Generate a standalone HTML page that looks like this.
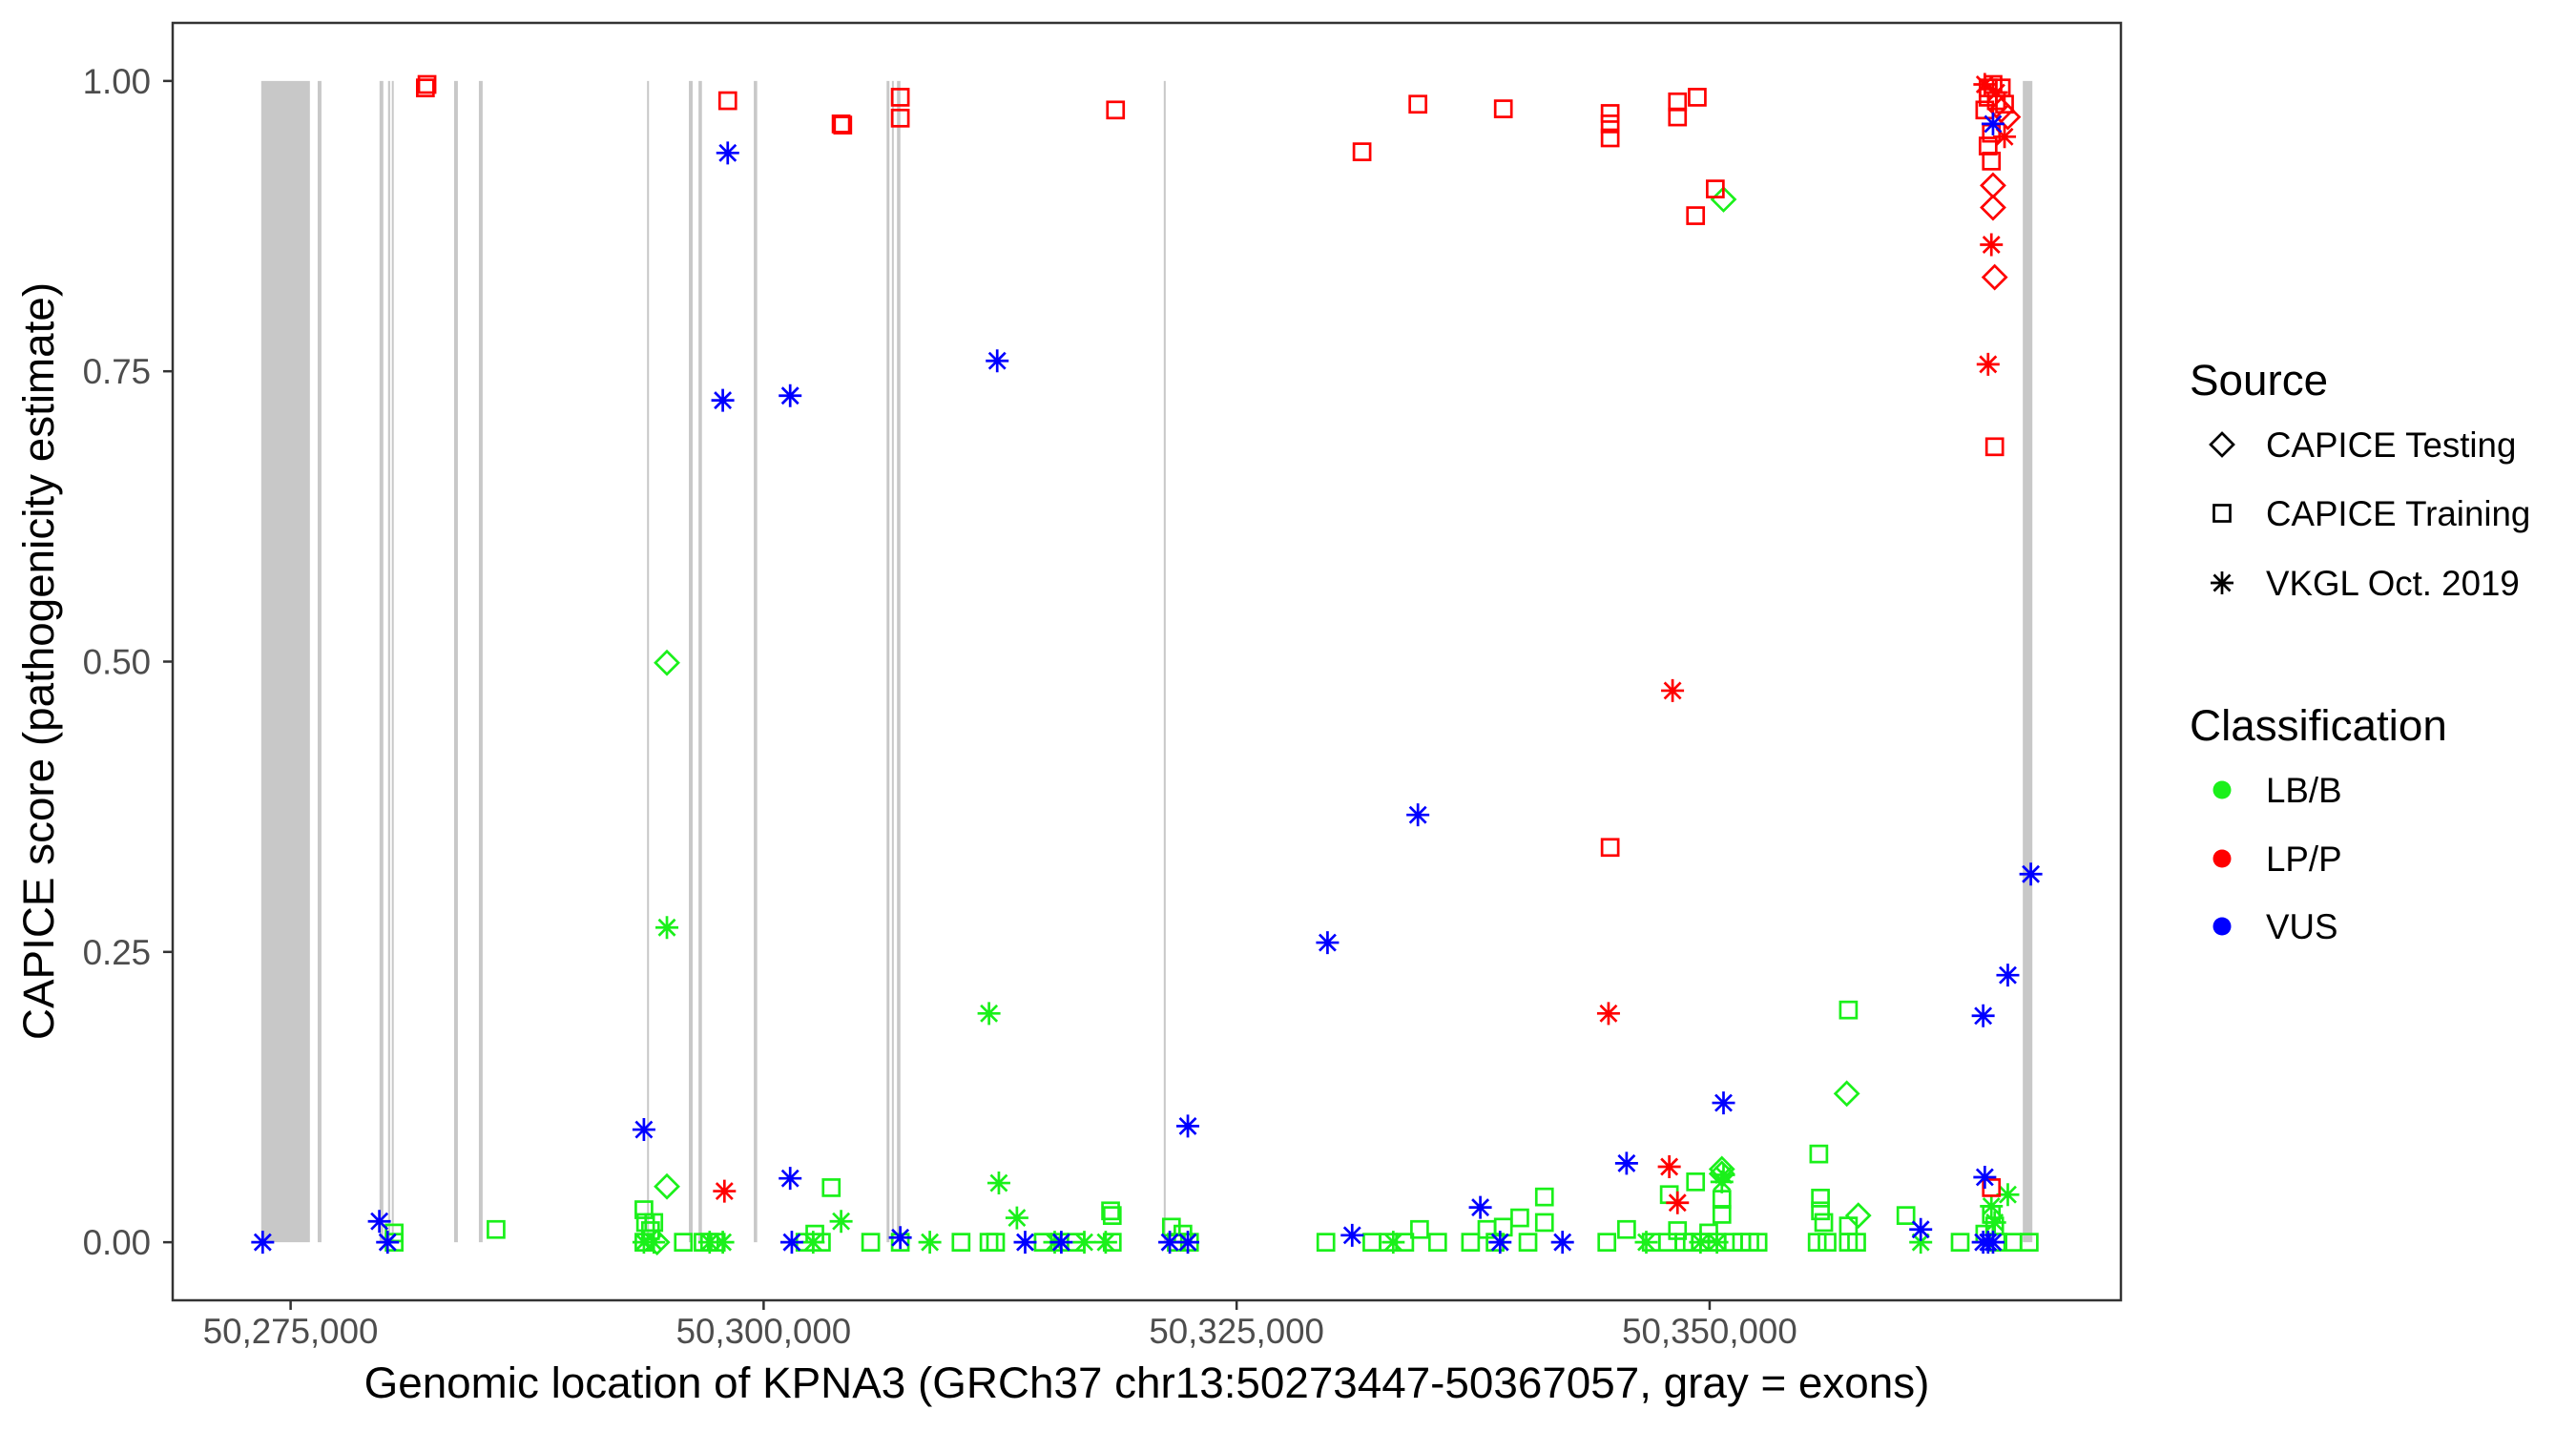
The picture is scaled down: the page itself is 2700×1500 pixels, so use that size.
<!DOCTYPE html>
<html><head><meta charset="utf-8"><style>
html,body{margin:0;padding:0;background:#fff;}
svg{display:block;font-family:"Liberation Sans",Arial,sans-serif;}
</style></head><body>
<svg id="chart" width="2700" height="1500" viewBox="0 0 2700 1500" xmlns="http://www.w3.org/2000/svg">
<rect x="0" y="0" width="2700" height="1500" fill="#fff"/>
<g id="exons"></g>
<g id="points"></g>
<rect x="181" y="24" width="2042" height="1339" fill="none" stroke="#333" stroke-width="2.5"/>
<g id="xaxis"></g>
<g id="yaxis"></g>
<text x="1202" y="1465" font-size="45.8" text-anchor="middle" fill="#000">Genomic location of KPNA3 (GRCh37 chr13:50273447-50367057, gray = exons)</text>
<text transform="translate(56,693) rotate(-90)" font-size="45.8" text-anchor="middle" fill="#000">CAPICE score (pathogenicity estimate)</text>
<g id="legend">
<text x="2295" y="414" font-size="45.8" fill="#000">Source</text>
<text x="2375" y="479" font-size="36.7" fill="#000">CAPICE Testing</text>
<text x="2375" y="551" font-size="36.7" fill="#000">CAPICE Training</text>
<text x="2375" y="624" font-size="36.7" fill="#000">VKGL Oct. 2019</text>
<text x="2295" y="776" font-size="45.8" fill="#000">Classification</text>
<text x="2375" y="841" font-size="36.7" fill="#000">LB/B</text>
<text x="2375" y="913" font-size="36.7" fill="#000">LP/P</text>
<text x="2375" y="984" font-size="36.7" fill="#000">VUS</text>
<circle cx="2329" cy="828" r="9.5" fill="#1AF01A"/>
<circle cx="2329" cy="900" r="9.5" fill="#FF0000"/>
<circle cx="2329" cy="971" r="9.5" fill="#0000FF"/>
</g>
</svg>
<script>
const xTicks = [50275000, 50300000, 50325000, 50350000];
const xTickLabels = ["50,275,000", "50,300,000", "50,325,000", "50,350,000"];
const yTicks = [0, 0.25, 0.5, 0.75, 1];
const yTickLabels = ["0.00", "0.25", "0.50", "0.75", "1.00"];
const exonStarts = [50273447,50276430,50279700,50280150,50280350,50283640,50284950,50293840,50296050,50296560,50299480,50306500,50306780,50307050,50321150,50366550];
const exonEnds   = [50276019,50276630,50279900,50280260,50280450,50283840,50285150,50293900,50296250,50296740,50299660,50306650,50306880,50307230,50321210,50367057];

const vkglVusPos = [50273524,50279690,50280125,50293673,50298103,50297842,50301403,50301403,50301490,50307222,50312346,50313822,50315733,50322421,50321466,50322421,50329804,50331107,50334581,50337880,50338923,50342223,50345610,50350734,50361157,50364457,50364544,50365760,50366977,50364978,50364457,50364718,50364978];
const vkglVusScore = [0,0.018,0,0.097,0.938,0.725,0.729,0.055,0,0.004,0.759,0,0,0.1,0,0,0.258,0.006,0.368,0.03,0,0,0.068,0.12,0.011,0.195,0.056,0.23,0.317,0.963,0,0,0];
const vkglLppPos = [50297929,50344655,50348041,50347867,50348302,50364544,50365152,50365587,50364891,50364718];
const vkglLppScore = [0.044,0.197,0.475,0.065,0.034,0.997,0.99,0.952,0.859,0.756];
const vkglLbbPos = [50294889,50293673,50294194,50297147,50297842,50304095,50302619,50308785,50311912,50312433,50313388,50315385,50316949,50318078,50333278,50346650,50350647,50350734,50349518,50350386,50361157,50365760,50364891,50365065];
const vkglLbbScore = [0.271,0,0,0,0,0.018,0,0,0.197,0.051,0.021,0,0,0,0,0,0.052,0.058,0,0,0,0.041,0.031,0.017];
const trainLppPos = [50282122,50282209,50298103,50304095,50304182,50307222,50307222,50318600,50331628,50334581,50339096,50344741,50344741,50344741,50344741,50348302,50348302,50349344,50349257,50350299,50364718,50364978,50365413,50365152,50365587,50364718,50364544,50364891,50364718,50364891,50365065,50364891];
const trainLppScore = [0.994,0.997,0.983,0.963,0.962,0.986,0.968,0.975,0.939,0.98,0.976,0.972,0.963,0.951,0.34,0.982,0.969,0.986,0.884,0.907,0.994,0.997,0.994,0.983,0.98,0.986,0.975,0.955,0.944,0.931,0.685,0.047];
const trainLbbPos = [50280472,50280472,50285857,50293673,50293760,50294021,50294194,50293673,50295758,50296800,50297147,50297495,50302185,50302706,50303053,50303574,50305659,50307222,50310435,50311912,50312259,50314777,50315646,50316515,50318339,50318426,50318426,50321553,50321813,50322160,50322508,50329717,50332149,50333017,50333886,50334668,50335623,50338228,50338662,50339096,50339965,50341268,50341268,50340399,50337365,50345610,50346912,50344568,50347867,50349257,50350647,50350647,50347780,50348649,50349084,50349518,50349952,50350386,50351255,50351689,50352123,50352558,50348302,50349952,50355771,50355858,50355858,50356032,50355685,50356206,50357335,50357335,50357769,50357335,50360375,50363241,50364891,50365065,50364544,50365239,50366021,50366890];
const trainLbbScore = [0.008,0,0.011,0.028,0.017,0.01,0.017,0,0,0,0,0,0,0.007,0,0.047,0,0,0,0,0,0,0,0,0.027,0.023,0,0.013,0,0.007,0,0,0,0,0,0.011,0,0.011,0,0.013,0.021,0.039,0.017,0,0,0.011,0,0,0.041,0.052,0.024,0.037,0,0,0,0,0,0,0,0,0,0,0.01,0.008,0.076,0.038,0.027,0.017,0,0,0.014,0,0,0.2,0.023,0,0.024,0.014,0.007,0,0,0];
const testLbbPos = [50294368,50294889,50294889,50350734,50350647,50350647,50357856,50357248];
const testLbbScore = [0,0.048,0.499,0.898,0.063,0.059,0.023,0.128];
const testLppPos = [50365413,50365760,50364978,50364978,50365065];
const testLppScore = [0.975,0.969,0.91,0.891,0.831];

const NS = "http://www.w3.org/2000/svg";
const X0 = 50268767, X1 = 50371737, PX0 = 181, PX1 = 2223;
const PY0 = 1363, PY1 = 24, Y0 = -0.05, Y1 = 1.05;
function xs(v){ return PX0 + (v - X0) / (X1 - X0) * (PX1 - PX0); }
function ys(v){ return PY0 - (v - Y0) / (Y1 - Y0) * (PY0 - PY1); }
function mk(tag, attrs, parent){
  const el = document.createElementNS(NS, tag);
  for (const k in attrs) el.setAttribute(k, attrs[k]);
  parent.appendChild(el);
  return el;
}
const GREEN = "#1AF01A", RED = "#FF0000", BLUE = "#0000FF";

const exG = document.getElementById("exons");
for (let i = 0; i < exonStarts.length; i++) {
  const x1 = xs(exonStarts[i]), x2 = xs(exonEnds[i]);
  const r = mk("rect", {x: x1, y: ys(1), width: Math.max(2, x2 - x1), height: ys(0) - ys(1), fill: "#C8C8C8"}, exG);
  
  
}

const ptG = document.getElementById("points");
function drawShape(shape, cx, cy, color, parent){
  let el;
  if (shape === "square") {
    el = mk("rect", {x: cx - 8.5, y: cy - 8.5, width: 17, height: 17, fill: "none", stroke: color, "stroke-width": 2.7}, parent);
  } else if (shape === "diamond") {
    const r = 12;
    el = mk("polygon", {points: `${cx},${cy-r} ${cx+r},${cy} ${cx},${cy+r} ${cx-r},${cy}`, fill: "none", stroke: color, "stroke-width": 2.7}, parent);
  } else {
    const r = 12, d = 8.5;
    el = mk("path", {d: `M${cx-r},${cy}H${cx+r}M${cx},${cy-r}V${cy+r}M${cx-d},${cy-d}L${cx+d},${cy+d}M${cx-d},${cy+d}L${cx+d},${cy-d}`, fill: "none", stroke: color, "stroke-width": 2.7}, parent);
  }
  return el;
}
function series(pos, score, shape, color, name){
  for (let i = 0; i < pos.length; i++) {
    const el = drawShape(shape, xs(pos[i]), ys(score[i]), color, ptG);
    
    
  }
}
series(trainLbbPos, trainLbbScore, "square", GREEN, "training-lbb-point");
series(testLbbPos, testLbbScore, "diamond", GREEN, "testing-lbb-point");
series(vkglLbbPos, vkglLbbScore, "asterisk", GREEN, "vkgl-lbb-point");
series(trainLppPos, trainLppScore, "square", RED, "training-lpp-point");
series(testLppPos, testLppScore, "diamond", RED, "testing-lpp-point");
series(vkglLppPos, vkglLppScore, "asterisk", RED, "vkgl-lpp-point");
series(vkglVusPos, vkglVusScore, "asterisk", BLUE, "vkgl-vus-point");

const xa = document.getElementById("xaxis");
for (let i = 0; i < xTicks.length; i++) {
  const x = xs(xTicks[i]);
  const t = mk("line", {x1: x, x2: x, y1: PY0, y2: PY0 + 10, stroke: "#333", "stroke-width": 2.5}, xa);
  
  
  const lb = mk("text", {x: x, y: 1408, "font-size": 36.7, "text-anchor": "middle", fill: "#4D4D4D"}, xa);
  lb.textContent = xTickLabels[i];
  
  
}
const ya = document.getElementById("yaxis");
for (let i = 0; i < yTicks.length; i++) {
  const y = ys(yTicks[i]);
  const t = mk("line", {x1: PX0 - 10, x2: PX0, y1: y, y2: y, stroke: "#333", "stroke-width": 2.5}, ya);
  
  
  const lb = mk("text", {x: 158, y: y + 13, "font-size": 36.7, "text-anchor": "end", fill: "#4D4D4D"}, ya);
  lb.textContent = yTickLabels[i];
  
  
}

const lg = document.getElementById("legend");
const k1 = drawShape("diamond", 2329, 466, "#000", lg);


const k2 = drawShape("square", 2329, 538, "#000", lg);


const k3 = drawShape("asterisk", 2329, 611, "#000", lg);


</script>
</body></html>
